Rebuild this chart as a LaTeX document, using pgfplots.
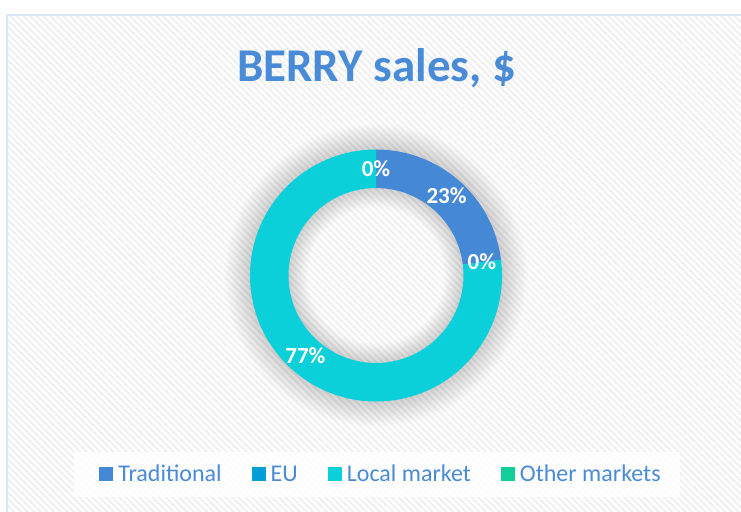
\documentclass[border=0pt]{standalone}
\usepackage{fontspec}
\setmainfont{Carlito}
\usepackage{pgfplots}
\pgfplotsset{compat=1.18}
\usetikzlibrary{patterns.meta}

\definecolor{cTrad}{HTML}{4589D6}
\definecolor{cEU}{HTML}{049FD9}
\definecolor{cLocal}{HTML}{0BCFD9}
\definecolor{cOther}{HTML}{12CF9A}
\definecolor{cTitle}{HTML}{4A8BD8}
\definecolor{cFrame}{HTML}{DCE7F5}

\begin{document}
\begin{tikzpicture}
  \begin{axis}[
    at={(0,0)}, anchor=south west,
    x=1pt, y=1pt,
    xmin=0, xmax=741, ymin=0, ymax=511,
    hide axis, clip=true,
    legend columns=4,
    legend image code/.code={\fill[#1,draw=none] (0pt,-7pt) rectangle (14pt,7pt);},
    legend style={
      at={(axis description cs:0.5148,0.0724)}, anchor=center,
      draw=none, fill=none, inner sep=0pt,
      font=\fontsize{24}{28}\selectfont, text=cTitle,
      nodes={inner xsep=3pt, inner ysep=0pt, text height=20pt, text depth=4.6pt},
      /tikz/every odd column/.append style={column sep=2pt},
      /tikz/every even column/.append style={column sep=27pt},
    },
  ]
    \addlegendimage{fill=cTrad}
    \addlegendentry{Traditional}
    \addlegendimage{fill=cEU}
    \addlegendentry{EU}
    \addlegendimage{fill=cLocal}
    \addlegendentry{Local market}
    \addlegendimage{fill=cOther}
    \addlegendentry{Other markets}

    \pgfplotsextra{
      % background and chart area
      \fill[white] (axis cs:0,0) rectangle (axis cs:741,511);
      \fill[pattern={Lines[angle=-45,distance=4.7pt,line width=2pt]},
            pattern color=black!6] (axis cs:7,-5) rectangle (axis cs:750,496);
      \draw[cFrame, line width=1.5pt] (axis cs:7,-5) rectangle (axis cs:750,496);

      % title
      \node[anchor=base, text=cTitle, font=\bfseries\fontsize{47}{50}\selectfont]
        at (axis cs:376.5,429) {BERRY sales, \$};

      % soft shadow around the ring
      \foreach \k in {1,...,14}
        \fill[black, opacity=0.010, even odd rule]
          (axis cs:376,235.5) circle[radius=126pt+1.8pt*\k]
          (axis cs:376,235.5) circle[radius=87.5pt-1.4pt*\k];

      % legend box
      \fill[white, opacity=0.85] (axis cs:74,14) rectangle (axis cs:680,59);

      % shares in percent, clockwise from the top
      \foreach \v/\c [remember=\e as \s (initially 90),
                      evaluate=\v as \e using \s-3.6*\v]
        in {23/cTrad,0/cEU,77/cLocal,0/cOther}
      {
        \fill[\c] (axis cs:{376+126*cos(\s)},{235.5+126*sin(\s)})
          arc[start angle=\s, end angle=\e, radius=126pt]
          -- (axis cs:{376+87.5*cos(\e)},{235.5+87.5*sin(\e)})
          arc[start angle=\e, end angle=\s, radius=87.5pt] -- cycle;
      }
      \foreach \v [remember=\e as \s (initially 90),
                   evaluate=\v as \e using \s-3.6*\v,
                   evaluate=\v as \m using \s-1.8*\v]
        in {23,0,77,0}
      {
        \node[text=white, font=\bfseries\fontsize{23}{25}\selectfont]
          at (axis cs:{376+106.75*cos(\m)},{235.5+106.75*sin(\m)}) {\v\%};
      }
    }
  \end{axis}
  \pgfresetboundingbox
  \path (0,0) rectangle (741pt,511pt);
\end{tikzpicture}
\end{document}
